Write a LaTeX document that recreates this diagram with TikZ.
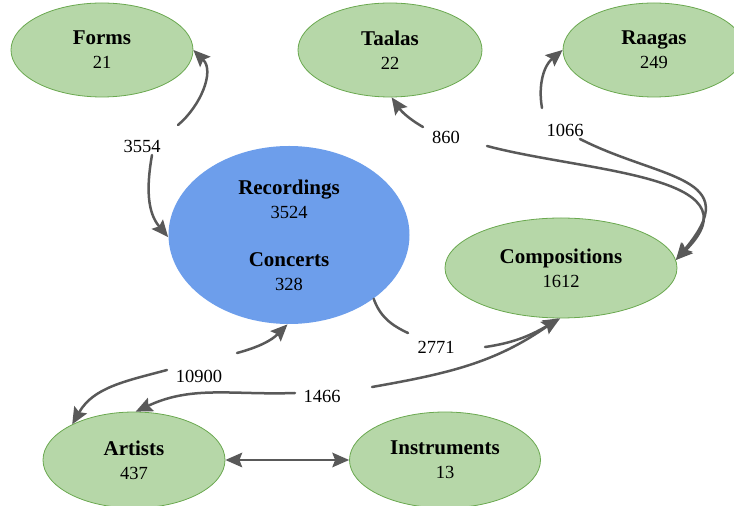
\documentclass[tikz,border=0pt]{standalone}
\usepackage{fontspec}
\setmainfont{Liberation Serif}
\usetikzlibrary{shapes.geometric,arrows.meta}
\definecolor{entfill}{HTML}{B6D7A8}
\definecolor{entline}{HTML}{6AA84F}
\definecolor{recfill}{HTML}{6D9EEB}
\definecolor{linkgray}{HTML}{595959}
\newcommand{\ttl}[1]{{\fontsize{21}{24}\selectfont\bfseries #1}}
\begin{document}
\begin{tikzpicture}[x=1pt,y=1pt,line join=round,line cap=round,
    entity/.style={ellipse,draw=entline,fill=entfill,line width=0.8pt,inner sep=0pt,
      align=center,font=\fontsize{18.5}{24}\selectfont},
    count/.style={inner sep=2pt,font=\fontsize{18.5}{22}\selectfont},
    link/.style={draw=linkgray,line width=2.5pt},
    arr/.style={link,-{Stealth[length=17pt,width=15pt,inset=3pt,line width=0pt]}},
    darr/.style={link,{Stealth[length=17pt,width=15pt,inset=3pt,line width=0pt]}-{Stealth[length=17pt,width=15pt,inset=3pt,line width=0pt]}}]
    \useasboundingbox (0,0) rectangle (734,506);
    \node[entity,minimum width=182pt,minimum height=94pt] (forms) at (102,456) {\ttl{Forms}\\21};
    \node[entity,minimum width=184pt,minimum height=94pt] (taalas) at (390,456) {\ttl{Taalas}\\22};
    \node[entity,minimum width=182pt,minimum height=94pt] (raagas) at (654,456) {\ttl{Raagas}\\249};
    \node[entity,fill=recfill,draw=none,minimum width=241pt,minimum height=178pt] (rec) at (289,271)
      {\ttl{Recordings}\\3524\\[24pt]\ttl{Concerts}\\328};
    \node[entity,minimum width=232pt,minimum height=100pt] (comp) at (561,238) {\ttl{Compositions}\\1612};
    \node[entity,minimum width=182pt,minimum height=96pt] (artists) at (134,46) {\ttl{Artists}\\437};
    \node[entity,minimum width=191pt,minimum height=96pt] (instr) at (445,46) {\ttl{Instruments}\\13};
    % edge counts
    \node[count] (n3554) at (142,360) {3554};
    \node[count] (n860) at (446,369) {860};
    \node[count] (n1066) at (565,376) {1066};
    \node[count] (n2771) at (436,159) {2771};
    \node[count] (n1466) at (322,110) {1466};
    \node[count] (n10900) at (199,130) {10900};
    \path
    (178,381) coordinate (f1)
    (152,351) coordinate (f2)
    (423,379) coordinate (t1)
    (487,360) coordinate (t2)
    (542,398) coordinate (r1)
    (580,367) coordinate (r2)
    (408,173) coordinate (c1)
    (485,159) coordinate (c2)
    (295,113) coordinate (a1)
    (372,119) coordinate (a2)
    (167,136) coordinate (b1)
    (237,153) coordinate (b2)
    ;
    \draw[arr] (f1) to[out=40,in=-45] (forms.east);
    \draw[arr] (f2) to[out=-100,in=130] (rec.181);
    \draw[arr] (t1) to[out=150,in=-55] (taalas.-88);
    \draw[arr] (t2) .. controls +(-15:100) and +(45:120) .. (comp.4);
    \draw[arr] (r1) to[out=100,in=-140] (raagas.west);
    \draw[arr] (r2) .. controls +(-27:90) and +(50:110) .. (comp.4);
    \draw[link] (rec.-37) to[out=-70,in=155] (c1);
    \draw[arr] (c2) to[out=8,in=-150] (comp.-91);
    \draw[arr] (a2) to[out=10,in=-145] (comp.-93);
    \draw[arr] (a1) to[out=182,in=25] (artists.88);
    \draw[arr] (b2) to[out=15,in=-135] (rec.-91);
    \draw[arr] (b1) to[out=195,in=60] (artists.150);
    \draw[darr] (artists) -- (instr);
\end{tikzpicture}
\end{document}
